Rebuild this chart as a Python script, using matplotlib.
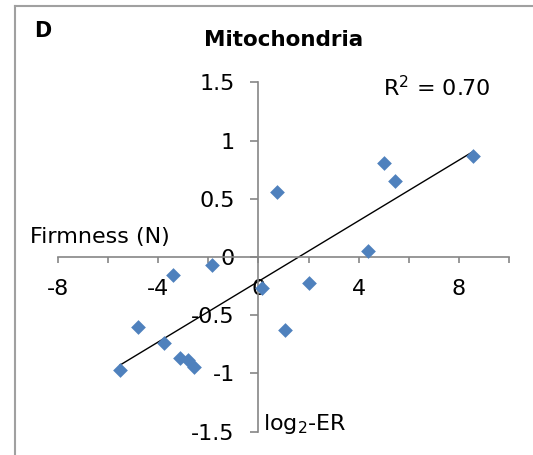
import numpy as np
import matplotlib
matplotlib.use("Agg")
import matplotlib.pyplot as plt
from matplotlib.lines import Line2D

# ------------- data -------------
log2_er = [-5.52, -4.79, -3.75, -3.39, -3.13, -2.83, -2.57, -1.86,
           0.135, 1.07, 2.00, 4.39, 0.76, 5.03, 5.46, 8.56]
firmness = [-0.974, -0.605, -0.742, -0.158, -0.863, -0.886, -0.943, -0.072,
            -0.265, -0.628, -0.22, 0.052, 0.561, 0.811, 0.656, 0.866]

x_ticks = [-8, -6, -4, -2, 0, 2, 4, 6, 8, 10]
x_labels = ["-8", "", "-4", "", "0", "", "4", "", "8", ""]
y_ticks = [-1.5, -1, -0.5, 0, 0.5, 1, 1.5]
y_labels = ["-1.5", "-1", "-0.5", "0", "0.5", "1", "1.5"]

title = "Mitochondria"
panel = "D"
r2_text = "R$^2$ = 0.70"

blue = "#4F81BD"
axis_grey = "#868686"
fs = 16

plt.rcParams["font.family"] = ["DejaVu Sans"]

fig = plt.figure(figsize=(5.33, 4.55), dpi=100)
ax = fig.add_axes([0.1088, 0.0512, 0.846, 0.768])

x = np.array(log2_er)
y = np.array(firmness)

ax.scatter(x, y, marker="D", s=7.5 ** 2, color=blue, zorder=3, linewidths=0)

# linear trend line over the data range
slope, icept = np.polyfit(x, y, 1)
xl = np.array([x.min(), x.max()])
ax.plot(xl, slope * xl + icept, color="black", lw=1.0, zorder=2)

ax.set_xlim(-8, 10)
ax.set_ylim(-1.5, 1.5)

# axes crossing at the origin
ax.spines["left"].set_position(("data", 0))
ax.spines["bottom"].set_position(("data", 0))
ax.spines["right"].set_visible(False)
ax.spines["top"].set_visible(False)
for s in ("left", "bottom"):
    ax.spines[s].set_color(axis_grey)
    ax.spines[s].set_linewidth(1.2)

ax.set_xticks(x_ticks)
ax.set_xticklabels(x_labels)
ax.set_yticks(y_ticks)
ax.set_yticklabels(y_labels)
ax.tick_params(axis="x", direction="out", length=4, width=1.2, color=axis_grey,
               labelsize=fs, pad=12)
ax.tick_params(axis="y", direction="out", length=5.5, width=1.2, color=axis_grey,
               labelsize=fs, pad=11.5)
ax.patch.set_alpha(0)

# texts
fig.text(0.533, 0.912, title, ha="center", va="center", fontsize=15.5, fontweight="bold")
fig.text(0.064, 0.932, panel, ha="left", va="center", fontsize=15, fontweight="bold")
fig.text(0.82, 0.808, r2_text, ha="center", va="center", fontsize=fs)
fig.text(0.056, 0.479, "Firmness (N)", ha="left", va="center", fontsize=fs)
fig.text(0.493, 0.068, "log$_2$-ER", ha="left", va="center", fontsize=fs)

# grey frame (left and top only visible)
fig.add_artist(Line2D([15 / 533, 15 / 533], [0, 1 - 6 / 455],
                      transform=fig.transFigure, color="#A0A0A0", lw=1.5))
fig.add_artist(Line2D([15 / 533, 1], [1 - 6 / 455, 1 - 6 / 455],
                      transform=fig.transFigure, color="#A0A0A0", lw=1.5))

fig.savefig("out.png", dpi=100)
